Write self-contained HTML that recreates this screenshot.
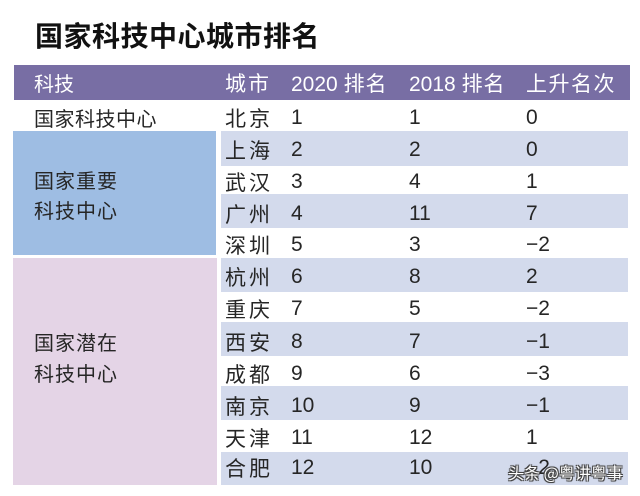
<!DOCTYPE html>
<html>
<head>
<meta charset="utf-8">
<style>
  html,body{margin:0;padding:0;background:#fff;}
  body{width:640px;height:496px;position:relative;overflow:hidden;
       font-family:"Liberation Sans","Noto Sans CJK SC",sans-serif;color:#262626;}
  .abs{position:absolute;}
  .t{position:absolute;height:24px;line-height:24px;white-space:nowrap;}
  .cjk{font-family:"Noto Sans CJK SC","Liberation Sans",sans-serif;}
  .city{font-size:21px;letter-spacing:3px;left:225px;}
  .n{font-size:21px;}
  .c1{left:291px;}
  .c2{left:409px;}
  .c3{left:526px;}
  .hd{color:#fff;font-size:21px;}
  .lab{font-size:20px;letter-spacing:1px;left:34px;}
  .shade{position:absolute;left:221px;width:407px;background:#d3daec;}
</style>
</head>
<body>
  <!-- title -->
  <div class="abs cjk" style="left:35px;top:17px;font-size:28px;letter-spacing:0.5px;font-weight:bold;line-height:36px;color:#111;white-space:nowrap;">国家科技中心城市排名</div>

  <!-- header -->
  <div class="abs" style="left:14px;top:65px;width:616px;height:35px;background:#786ea4;"></div>
  <div class="t cjk hd" style="left:34px;top:71px;font-size:20px;">科技</div>
  <div class="t cjk hd" style="left:225px;top:71px;letter-spacing:2px;">城市</div>
  <div class="t hd" style="left:291px;top:71px;">2020 <span class="cjk" style="letter-spacing:1px;">排名</span></div>
  <div class="t hd" style="left:409px;top:71px;">2018 <span class="cjk" style="letter-spacing:1px;">排名</span></div>
  <div class="t cjk hd" style="left:526px;top:71px;letter-spacing:1.5px;">上升名次</div>

  <!-- group blocks -->
  <div class="abs" style="left:13px;top:131px;width:203px;height:124px;background:#9ebde3;"></div>
  <div class="abs" style="left:13px;top:258px;width:204px;height:227px;background:#e4d4e6;"></div>

  <!-- shaded rows -->
  <div class="shade" style="top:131px;height:35px;"></div>
  <div class="shade" style="top:194px;height:34px;"></div>
  <div class="shade" style="top:258px;height:34px;"></div>
  <div class="shade" style="top:322px;height:34px;"></div>
  <div class="shade" style="top:386px;height:34px;"></div>
  <div class="shade" style="top:452px;height:33px;"></div>

  <!-- left labels -->
  <div class="t cjk lab" style="top:106px;letter-spacing:0.5px;">国家科技中心</div>
  <div class="t cjk lab" style="top:168px;">国家重要</div>
  <div class="t cjk lab" style="top:198px;">科技中心</div>
  <div class="t cjk lab" style="top:330px;">国家潜在</div>
  <div class="t cjk lab" style="top:361px;">科技中心</div>

  <!-- rows -->
  <div class="t cjk city" style="top:106px;">北京</div>
  <div class="t n c1" style="top:106px;">1</div>
  <div class="t n c2" style="top:106px;">1</div>
  <div class="t n c3" style="top:106px;">0</div>

  <div class="t cjk city" style="top:138px;">上海</div>
  <div class="t n c1" style="top:138px;">2</div>
  <div class="t n c2" style="top:138px;">2</div>
  <div class="t n c3" style="top:138px;">0</div>

  <div class="t cjk city" style="top:170px;">武汉</div>
  <div class="t n c1" style="top:170px;">3</div>
  <div class="t n c2" style="top:170px;">4</div>
  <div class="t n c3" style="top:170px;">1</div>

  <div class="t cjk city" style="top:202px;">广州</div>
  <div class="t n c1" style="top:202px;">4</div>
  <div class="t n c2" style="top:202px;">11</div>
  <div class="t n c3" style="top:202px;">7</div>

  <div class="t cjk city" style="top:233px;">深圳</div>
  <div class="t n c1" style="top:233px;">5</div>
  <div class="t n c2" style="top:233px;">3</div>
  <div class="t n c3" style="top:233px;">−2</div>

  <div class="t cjk city" style="top:265px;">杭州</div>
  <div class="t n c1" style="top:265px;">6</div>
  <div class="t n c2" style="top:265px;">8</div>
  <div class="t n c3" style="top:265px;">2</div>

  <div class="t cjk city" style="top:297px;">重庆</div>
  <div class="t n c1" style="top:297px;">7</div>
  <div class="t n c2" style="top:297px;">5</div>
  <div class="t n c3" style="top:297px;">−2</div>

  <div class="t cjk city" style="top:330px;">西安</div>
  <div class="t n c1" style="top:330px;">8</div>
  <div class="t n c2" style="top:330px;">7</div>
  <div class="t n c3" style="top:330px;">−1</div>

  <div class="t cjk city" style="top:362px;">成都</div>
  <div class="t n c1" style="top:362px;">9</div>
  <div class="t n c2" style="top:362px;">6</div>
  <div class="t n c3" style="top:362px;">−3</div>

  <div class="t cjk city" style="top:394px;">南京</div>
  <div class="t n c1" style="top:394px;">10</div>
  <div class="t n c2" style="top:394px;">9</div>
  <div class="t n c3" style="top:394px;">−1</div>

  <div class="t cjk city" style="top:426px;">天津</div>
  <div class="t n c1" style="top:426px;">11</div>
  <div class="t n c2" style="top:426px;">12</div>
  <div class="t n c3" style="top:426px;">1</div>

  <div class="t cjk city" style="top:456px;">合肥</div>
  <div class="t n c1" style="top:456px;">12</div>
  <div class="t n c2" style="top:456px;">10</div>
  <div class="t n c3" style="top:456px;">−2</div>

  <!-- watermark -->
  <div class="t cjk" style="left:508px;top:460px;font-size:16px;color:#fff;
       text-shadow:-1px -1px 0 #444,1px -1px 0 #444,-1px 1px 0 #444,1px 1px 0 #444,0 0 2px #333;">头条 @粤讲粤事</div>
</body>
</html>
